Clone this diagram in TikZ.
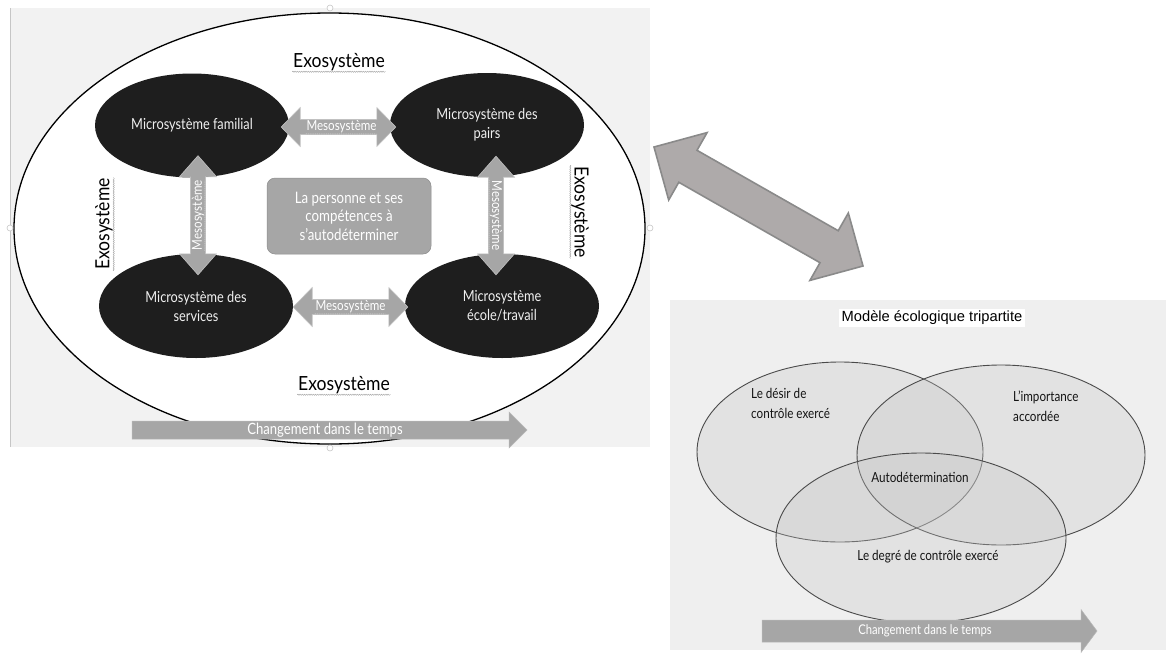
\documentclass[tikz,border=0pt]{standalone}
\usepackage{fontspec}
\setmainfont{Lato}
\newfontfamily\gill[FakeStretch=0.84]{Lato}
\newfontfamily\gillwide[FakeStretch=0.9]{Lato}
\newfontfamily\arialf{Liberation Sans}
\usetikzlibrary{calc,shapes.geometric,decorations.pathmorphing}

\definecolor{panelgray}{HTML}{F2F2F2}
\definecolor{rightpanel}{HTML}{EFEFEF}
\definecolor{blob}{HTML}{1E1E1E}
\definecolor{arrowgray}{HTML}{A6A6A6}
\definecolor{bigarrow}{HTML}{AEAAAA}
\definecolor{bigarrowline}{HTML}{8A8A8A}
\definecolor{vennline}{HTML}{4A4A4A}

% block arrow with a head at both ends: from, to, shaft half width, head half width, head length, style
\newcommand\twoheaded[6]{%
  \path[#6]
    (#1)
    -- ($($(#1)!#5!(#2)$)!#4!90:(#2)$)
    -- ($($(#1)!#5!(#2)$)!#3!90:(#2)$)
    -- ($($(#2)!#5!(#1)$)!#3!-90:(#1)$)
    -- ($($(#2)!#5!(#1)$)!#4!-90:(#1)$)
    -- (#2)
    -- ($($(#2)!#5!(#1)$)!#4!90:(#1)$)
    -- ($($(#2)!#5!(#1)$)!#3!90:(#1)$)
    -- ($($(#1)!#5!(#2)$)!#3!-90:(#2)$)
    -- ($($(#1)!#5!(#2)$)!#4!-90:(#2)$)
    -- cycle;}

% block arrow with one head: tail, tip, shaft half width, head half width, head length, style
\newcommand\oneheaded[6]{%
  \path[#6]
    ($(#1)!#3!90:(#2)$)
    -- ($($(#2)!#5!(#1)$)!#3!-90:(#1)$)
    -- ($($(#2)!#5!(#1)$)!#4!-90:(#1)$)
    -- (#2)
    -- ($($(#2)!#5!(#1)$)!#4!90:(#1)$)
    -- ($($(#2)!#5!(#1)$)!#3!90:(#1)$)
    -- ($(#1)!#3!-90:(#2)$)
    -- cycle;}

\begin{document}
\begin{tikzpicture}[x=1pt,y=-1pt,
  outerring/.style={ellipse, draw=black, line width=1.3pt, fill=white, inner sep=0pt},
  micro/.style={ellipse, fill=blob, text=white!94!black, inner sep=0pt, align=center,
    minimum width=194pt, minimum height=104pt, font=\gill\fontsize{15.2}{19}\selectfont},
  meso/.style={fill=arrowgray, draw=arrowgray!70!white, line width=0.6pt},
  mesolabel/.style={text=white, inner sep=0.5pt, font=\gill\fontsize{13.8}{14}\selectfont},
  exolabel/.style={inner sep=0.8pt, font=\gillwide\fontsize{19.5}{22}\selectfont},
  wavy/.style={draw=gray!70, line width=0.45pt, decorate,
    decoration={snake, amplitude=0.6pt, segment length=2.2pt}},
  core/.style={rounded corners=8pt, fill=arrowgray, draw=arrowgray!85!black, line width=0.5pt,
    text=white, align=center, minimum width=164pt, minimum height=76pt, inner sep=0pt,
    font=\gill\fontsize{15.8}{18.5}\selectfont},
  timearrow/.style={fill=arrowgray, draw=arrowgray!80!white, line width=0.5pt},
  timelabel/.style={text=white, inner sep=0pt},
  bridge/.style={fill=bigarrow, draw=bigarrowline, line width=1.6pt, line join=miter},
  venn/.style={ellipse, draw=vennline, line width=0.9pt, fill=black!22, fill opacity=0.3,
    inner sep=0pt},
  venntext/.style={text=black!92, inner sep=0pt, align=left, font=\gill\fontsize{13.9}{20}\selectfont},
  handle/.style={circle, draw=gray!45, fill=white, minimum size=6pt, inner sep=0pt, line width=0.6pt}]

\useasboundingbox (0,0) rectangle (1166,656);

% ---------- left panel: the ecological systems ----------
\fill[panelgray] (10,8) rectangle (650,447);
\draw[gray!45, line width=0.8pt] (10,8) -- (10,447);

\node[outerring, minimum width=631pt, minimum height=431pt] (exo) at (329.5,228.5) {};

\node[handle] (hTop) at (330,8) {};
\node[handle] (hLeft) at (10,228) {};
\node[handle] (hRight) at (650,228) {};

\node[micro] (fam)   at (192,125.5) {Microsystème familial};
\node[micro] (pairs) at (487,125)   {Microsystème des\\pairs};
\node[micro] (serv)  at (196,306)   {Microsystème des\\services};
\node[micro] (ecole) at (502,306)   {Microsystème\\école/travail};

\node[core] (person) at (349,216) {La personne et ses\\compétences à\\s’autodéterminer};

% mesosystem links between the microsystems
\coordinate (mTopA) at ($(fam.east)+(-8,1.5)$);
\coordinate (mTopB) at ($(pairs.west)+(6,2)$);
\coordinate (mBotA) at ($(serv.east)+(0,1)$);
\coordinate (mBotB) at ($(ecole.west)+(3,1)$);
\coordinate (mLeftA) at ($(fam.south)+(6,-22)$);
\coordinate (mLeftB) at ($(serv.north)+(2,21)$);
\coordinate (mRightA) at ($(pairs.south)+(9,-21)$);
\coordinate (mRightB) at ($(ecole.north)+(-6,21)$);

\twoheaded{mTopA}{mTopB}{7.5pt}{19.5pt}{19pt}{meso}
\twoheaded{mBotA}{mBotB}{7.5pt}{19.5pt}{19pt}{meso}
\twoheaded{mLeftA}{mLeftB}{7.5pt}{18.5pt}{21pt}{meso}
\twoheaded{mRightA}{mRightB}{7.5pt}{18.5pt}{21pt}{meso}

\node[mesolabel] (lTop) at ($(mTopA)!.5!(mTopB)+(3,0)$) {Mesosystème};
\node[mesolabel] (lBot) at ($(mBotA)!.5!(mBotB)+(0,0)$) {Mesosystème};
\node[mesolabel, rotate=90] (lLeft) at ($(mLeftA)!.5!(mLeftB)$) {Mesosystème};
\node[mesolabel, rotate=-90] (lRight) at ($(mRightA)!.5!(mRightB)$) {Mesosystème};
\foreach \n in {lTop,lBot,lLeft,lRight}
  \draw[wavy, draw=gray!55] (\n.south west) -- (\n.south east);

% exosystem labels around the ring
\node[exolabel] (eTop) at (339,62) {Exosystème};
\node[exolabel] (eBot) at (344,385) {Exosystème};
\node[exolabel, rotate=90] (eLeft) at (104,224) {Exosystème};
\node[exolabel, rotate=-90] (eRight) at (580,212) {Exosystème};
\foreach \n in {eTop,eBot,eLeft,eRight}
  \draw[wavy] (\n.south west) -- (\n.south east);

% change over time
\coordinate (tL0) at (132,430);
\coordinate (tL1) at (527,430);
\oneheaded{tL0}{tL1}{9pt}{18pt}{18pt}{timearrow}
\node[timelabel, font=\gill\fontsize{15.6}{16}\selectfont] (tLtext) at (325,430) {Changement dans le temps};

\node[handle] (hBot) at (330,448) {};

% ---------- link between the two models ----------
\coordinate (bridgeA) at (654,147);
\coordinate (bridgeB) at (863,266);
\twoheaded{bridgeA}{bridgeB}{18.4pt}{38.8pt}{39pt}{bridge}

% ---------- right panel: tripartite ecological model ----------
\fill[rightpanel] (670,300) rectangle (1166,650);
\node[fill=white, inner xsep=3pt, inner ysep=2pt, font=\arialf\fontsize{14.7}{17}\selectfont]
  (title) at (932,318) {Modèle écologique tripartite};

\node[venn, minimum width=286pt, minimum height=180pt] (desire) at (840,452) {};
\node[venn, minimum width=288pt, minimum height=180pt] (importance) at (1001,455) {};
\node[venn, minimum width=290pt, minimum height=170pt] (degree) at (921,538) {};

\node[venntext, anchor=west] (tDesire) at (751,403) {Le désir de\\contrôle exercé};
\node[venntext, anchor=west] (tImport) at (1013,406) {L’importance\\accordée};
\node[venntext] (tAuto) at (920,477) {Autodétermination};
\node[venntext] (tDegree) at (928,557) {Le degré de contrôle exercé};

\coordinate (tR0) at (762,631);
\coordinate (tR1) at (1097,631);
\oneheaded{tR0}{tR1}{11pt}{21.5pt}{16pt}{timearrow}
\node[timelabel, font=\gill\fontsize{13.4}{15}\selectfont] (tRtext) at (925,631) {Changement dans le temps};

\end{tikzpicture}
\end{document}
